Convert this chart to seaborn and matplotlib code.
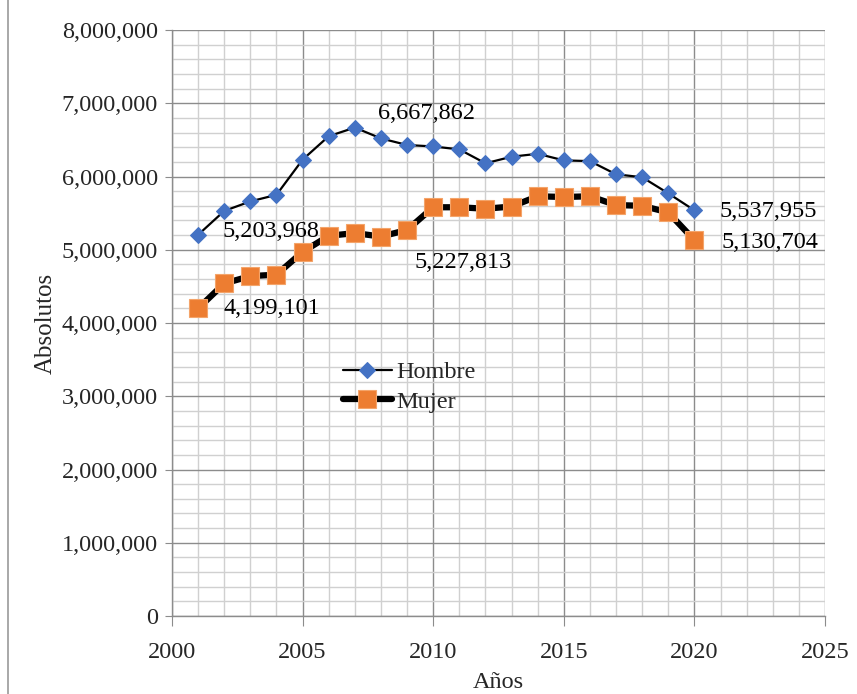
import numpy as np
import pandas as pd
import matplotlib
matplotlib.use("Agg")
import matplotlib.pyplot as plt
from matplotlib.ticker import MultipleLocator, FuncFormatter
import seaborn as sns

# ===== Data =====
years = list(range(2001, 2021))
hombre = [5203968, 5530000, 5660000, 5750000, 6230000, 6550000, 6667862, 6520000,
          6430000, 6410000, 6370000, 6180000, 6270000, 6310000, 6220000, 6210000,
          6030000, 5990000, 5770000, 5537955]
mujer = [4199101, 4540000, 4640000, 4660000, 4970000, 5190000, 5227813, 5180000,
         5270000, 5580000, 5580000, 5560000, 5590000, 5730000, 5720000, 5730000,
         5610000, 5600000, 5510000, 5130704]

df = pd.DataFrame({"year": years, "Hombre": hombre, "Mujer": mujer})

# ===== Style =====
sns.set_style("white")
plt.rcParams["font.family"] = ["Liberation Serif", "DejaVu Serif"]
FS = 17.5
PX = 72 / 100  # pixels -> points

fig = plt.figure(figsize=(8.57, 6.94), dpi=100)
ax = fig.add_axes([172 / 857, 1 - 616 / 694, 653 / 857, 586 / 694])

sns.lineplot(data=df, x="year", y="Mujer", ax=ax, color="black", linewidth=4.5,
             marker="s", markersize=13, markerfacecolor="#ED7D31",
             markeredgecolor="#F4A46A", markeredgewidth=0.8, label="Mujer", zorder=3)
sns.lineplot(data=df, x="year", y="Hombre", ax=ax, color="black", linewidth=1.6,
             marker="D", markersize=8, markerfacecolor="#4472C4",
             markeredgecolor="#4472C4", label="Hombre", zorder=4)

# ===== Axes =====
ax.set_xlim(2000, 2025)
ax.set_ylim(0, 8000000)
ax.xaxis.set_major_locator(MultipleLocator(5))
ax.xaxis.set_minor_locator(MultipleLocator(1))
ax.yaxis.set_major_locator(MultipleLocator(1000000))
ax.yaxis.set_minor_locator(MultipleLocator(200000))
ax.yaxis.set_major_formatter(FuncFormatter(lambda v, p: f"{int(v):,}"))
ax.grid(which="major", color="#8c8c8c", linewidth=1.0)
ax.grid(which="minor", color="#d0d0d0", linewidth=1.0)
ax.set_axisbelow(True)
ax.tick_params(which="major", direction="out", color="#8c8c8c",
               labelsize=FS, bottom=True, left=True)
ax.tick_params(axis="y", length=5, pad=5)
ax.tick_params(axis="x", length=7, pad=12)
ax.tick_params(which="minor", length=0)
for side in ["top", "right"]:
    ax.spines[side].set_visible(False)
for side in ["left", "bottom"]:
    ax.spines[side].set_color("#8c8c8c")
    ax.spines[side].set_linewidth(1.0)

ax.set_xlabel("Años", fontsize=FS, labelpad=6)
ax.set_ylabel("Absolutos", fontsize=18, labelpad=4)

# ===== Data labels =====
lab = dict(fontsize=FS, color="black", va="center", ha="left",
           textcoords="offset points")
ax.annotate(f"{hombre[0]:,}", (years[0], hombre[0]), xytext=(24 * PX, 3 * PX), **lab)
ax.annotate(f"{hombre[6]:,}", (years[6], hombre[6]), xytext=(23 * PX, 14 * PX), **lab)
ax.annotate(f"{hombre[-1]:,}", (years[-1], hombre[-1]), xytext=(25 * PX, -1 * PX), **lab)
ax.annotate(f"{mujer[0]:,}", (years[0], mujer[0]), xytext=(25 * PX, 0), **lab)
ax.annotate(f"{mujer[6]:,}", (years[6], mujer[6]), xytext=(60 * PX, -29 * PX), **lab)
ax.annotate(f"{mujer[-1]:,}", (years[-1], mujer[-1]), xytext=(27 * PX, -2 * PX), **lab)

# ===== Legend =====
handles, labels = ax.get_legend_handles_labels()
order = [labels.index("Hombre"), labels.index("Mujer")]
ax.legend([handles[i] for i in order], [labels[i] for i in order],
          loc="center left", bbox_to_anchor=((343 - 172) / 653, 1 - (387 - 30) / 586),
          frameon=False, fontsize=FS, handlelength=2.0, handletextpad=0.2,
          labelspacing=0.3, borderaxespad=0, borderpad=0)

# left frame line of the chart box
fig.add_artist(plt.Line2D([8 / 857, 8 / 857], [0, 1], color="#9a9a9a", linewidth=1.2))

fig.savefig("out.png", dpi=100)
